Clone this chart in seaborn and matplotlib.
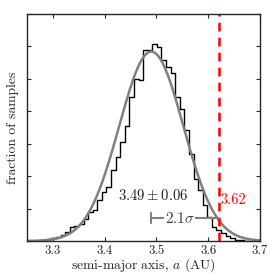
import numpy as np
import pandas as pd
import matplotlib
matplotlib.use("Agg")
import matplotlib.pyplot as plt
import seaborn as sns

# histogram of samples, heights in y-tick units
bin_start = 3.2707
bin_width = 0.00885
heights = [0.015, 0.02, 0.05, 0.09, 0.13, 0.18, 0.29, 0.42, 0.46, 0.52,
           0.67, 0.90, 0.95, 1.26, 1.51, 1.67, 2.18,
           2.58, 3.05, 3.56, 4.43, 4.99, 4.97, 5.88, 5.89, 6.06, 5.98,
           5.58, 5.35, 5.19,
           4.43, 4.07, 3.43, 2.67, 1.92, 1.56, 1.10, 0.75, 0.44, 0.34,
           0.24, 0.15, 0.08, 0.03, 0.03, 0.015]

# gaussian fit
mu = 3.49
sigma = 0.062
peak = 5.84

observed = 3.62
xticks = [3.3, 3.4, 3.5, 3.6, 3.7]

sns.set_style("ticks")
plt.rcParams["font.family"] = "serif"
plt.rcParams["font.serif"] = ["cmr10", "DejaVu Serif"]
plt.rcParams["mathtext.fontset"] = "cm"
plt.rcParams["axes.formatter.use_mathtext"] = True
plt.rcParams["axes.unicode_minus"] = False

edges = bin_start + bin_width * np.arange(len(heights) + 1)
centers = (edges[:-1] + edges[1:]) / 2
hist_df = pd.DataFrame({"a": centers, "w": heights})

fig, ax = plt.subplots(figsize=(2.74, 2.74), dpi=100)
fig.subplots_adjust(left=0.0985, right=0.949, top=0.949, bottom=0.1204)

sns.histplot(data=hist_df, x="a", weights="w", bins=list(edges), element="step",
             fill=False, color="black", linewidth=1.0, ax=ax)

xs = np.linspace(3.25, 3.7, 300)
ys = peak * np.exp(-0.5 * ((xs - mu) / sigma) ** 2)
sns.lineplot(x=xs, y=ys, color="#808080", linewidth=1.8, ax=ax)

ax.axvline(observed, color="red", linestyle=(0, (3.5, 2.5)), linewidth=1.8)

# 2.1 sigma bar
bar_y = 0.70
ax.plot([mu, observed], [bar_y, bar_y], color="#808080", linewidth=1.5)
ax.plot([mu, mu], [bar_y - 0.15, bar_y + 0.15], color="#808080", linewidth=1.5)
ax.text(3.545, bar_y, r"$2.1\sigma$", ha="center", va="center",
        fontsize=11, color="#404040",
        bbox=dict(facecolor="white", edgecolor="none", pad=0.4))
ax.text(3.494, 1.41, r"$3.49 \pm 0.06$", ha="center", va="center",
        fontsize=10.6, color="#202020")
ax.text(observed + 0.004, 1.27, "3.62", ha="left", va="center",
        fontsize=10.3, color="red")

ax.set_xlim(3.25, 3.7)
ax.set_ylim(0, 7)
ax.set_xticks(xticks)
ax.set_xticklabels([str(t) for t in xticks])
ax.set_yticks(range(8))
ax.set_yticklabels([])
ax.tick_params(direction="in", top=True, right=True, length=3, labelsize=9.2, pad=2.5)
for s in ax.spines.values():
    s.set_linewidth(1.0)
    s.set_visible(True)
ax.set_xlabel("semi-major axis, $a$ (AU)", fontsize=9.8, labelpad=0)
ax.set_ylabel("fraction of samples", fontsize=9.8, labelpad=3)

fig.savefig("out.png", dpi=100)
